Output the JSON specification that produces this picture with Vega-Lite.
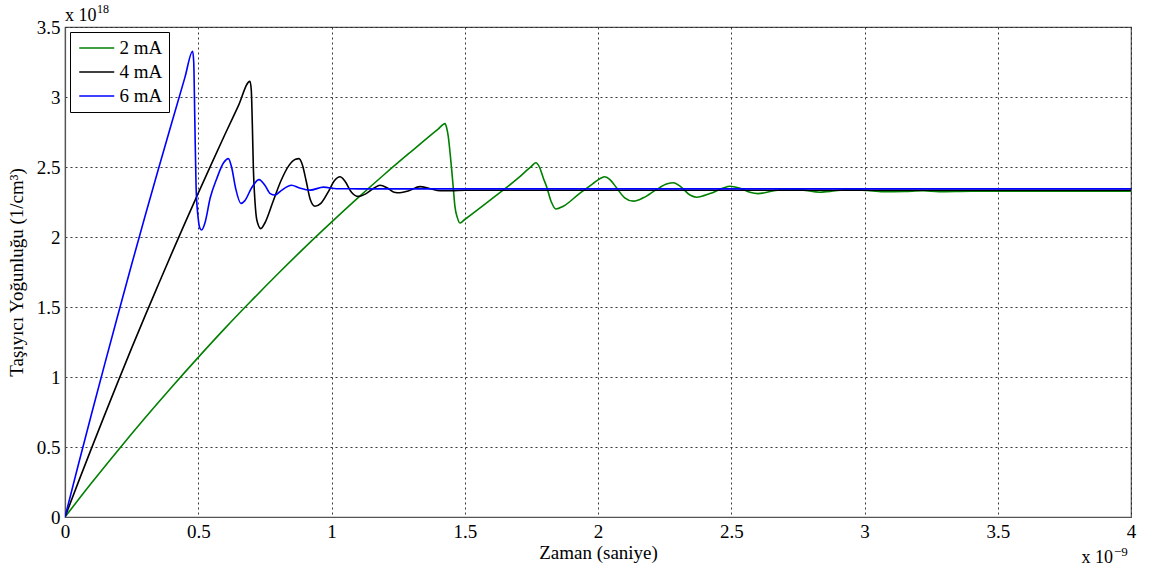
{
  "$schema": "https://vega.github.io/schema/vega-lite/v6.json",
  "width": 1066,
  "height": 490,
  "autosize": {"type": "none"},
  "padding": {"left": 65, "top": 27, "right": 21, "bottom": 59},
  "background": "white",
  "config": {
    "font": "Liberation Serif",
    "view": {"stroke": "#555", "strokeWidth": 1.2},
    "axis": {
      "labelFont": "Liberation Serif",
      "labelFontSize": 19,
      "labelColor": "#000",
      "labelFlush": false,
      "labelOverlap": false,
      "titleFont": "Liberation Serif",
      "titleFontSize": 19,
      "titleFontWeight": "normal",
      "titleColor": "#000",
      "grid": true,
      "gridColor": "#222",
      "gridDash": [2, 3],
      "gridWidth": 1,
      "gridOpacity": 0.9,
      "domainColor": "#555",
      "domainWidth": 1.2,
      "ticks": false,
      "labelPadding": 5
    },
    "legend": {
      "orient": "top-left",
      "offset": 5,
      "padding": 6,
      "strokeColor": "#000",
      "fillColor": "#fff",
      "symbolType": "M-2,0H2",
      "symbolSize": 306,
      "symbolOffset": 10.75,
      "labelOffset": 12.75,
      "symbolStrokeWidth": 1.6,
      "symbolFillColor": "transparent",
      "labelFont": "Liberation Serif",
      "labelFontSize": 19,
      "labelColor": "#000",
      "rowPadding": 4,
      "title": null
    }
  },
  "datasets": {
    "curves": [
      {"t": 0, "n": 0, "s": "2 mA"},
      {"t": 0.1, "n": 0.244, "s": "2 mA"},
      {"t": 0.2, "n": 0.479, "s": "2 mA"},
      {"t": 0.3, "n": 0.707, "s": "2 mA"},
      {"t": 0.4, "n": 0.927, "s": "2 mA"},
      {"t": 0.5, "n": 1.14, "s": "2 mA"},
      {"t": 0.6, "n": 1.347, "s": "2 mA"},
      {"t": 0.7, "n": 1.546, "s": "2 mA"},
      {"t": 0.8, "n": 1.739, "s": "2 mA"},
      {"t": 0.9, "n": 1.926, "s": "2 mA"},
      {"t": 1.0, "n": 2.106, "s": "2 mA"},
      {"t": 1.1, "n": 2.281, "s": "2 mA"},
      {"t": 1.2, "n": 2.45, "s": "2 mA"},
      {"t": 1.3, "n": 2.612, "s": "2 mA"},
      {"t": 1.4, "n": 2.771, "s": "2 mA"},
      {"t": 1.426, "n": 2.81, "s": "2 mA"},
      {"t": 1.432, "n": 2.78, "s": "2 mA"},
      {"t": 1.438, "n": 2.72, "s": "2 mA"},
      {"t": 1.445, "n": 2.6, "s": "2 mA"},
      {"t": 1.451, "n": 2.48, "s": "2 mA"},
      {"t": 1.457, "n": 2.35, "s": "2 mA"},
      {"t": 1.463, "n": 2.22, "s": "2 mA"},
      {"t": 1.472, "n": 2.14, "s": "2 mA"},
      {"t": 1.482, "n": 2.1, "s": "2 mA"},
      {"t": 1.5, "n": 2.125, "s": "2 mA"},
      {"t": 1.6, "n": 2.27, "s": "2 mA"},
      {"t": 1.7, "n": 2.42, "s": "2 mA"},
      {"t": 1.75, "n": 2.505, "s": "2 mA"},
      {"t": 1.767, "n": 2.53, "s": "2 mA"},
      {"t": 1.78, "n": 2.5, "s": "2 mA"},
      {"t": 1.795, "n": 2.42, "s": "2 mA"},
      {"t": 1.807, "n": 2.36, "s": "2 mA"},
      {"t": 1.825, "n": 2.25, "s": "2 mA"},
      {"t": 1.842, "n": 2.2, "s": "2 mA"},
      {"t": 1.87, "n": 2.22, "s": "2 mA"},
      {"t": 1.93, "n": 2.31, "s": "2 mA"},
      {"t": 1.98, "n": 2.38, "s": "2 mA"},
      {"t": 2.01, "n": 2.42, "s": "2 mA"},
      {"t": 2.026, "n": 2.43, "s": "2 mA"},
      {"t": 2.045, "n": 2.41, "s": "2 mA"},
      {"t": 2.07, "n": 2.35, "s": "2 mA"},
      {"t": 2.1, "n": 2.28, "s": "2 mA"},
      {"t": 2.133, "n": 2.256, "s": "2 mA"},
      {"t": 2.17, "n": 2.28, "s": "2 mA"},
      {"t": 2.22, "n": 2.34, "s": "2 mA"},
      {"t": 2.26, "n": 2.38, "s": "2 mA"},
      {"t": 2.283, "n": 2.387, "s": "2 mA"},
      {"t": 2.31, "n": 2.36, "s": "2 mA"},
      {"t": 2.345, "n": 2.3, "s": "2 mA"},
      {"t": 2.37, "n": 2.284, "s": "2 mA"},
      {"t": 2.42, "n": 2.31, "s": "2 mA"},
      {"t": 2.47, "n": 2.35, "s": "2 mA"},
      {"t": 2.495, "n": 2.363, "s": "2 mA"},
      {"t": 2.53, "n": 2.35, "s": "2 mA"},
      {"t": 2.57, "n": 2.32, "s": "2 mA"},
      {"t": 2.6, "n": 2.31, "s": "2 mA"},
      {"t": 2.66, "n": 2.33, "s": "2 mA"},
      {"t": 2.72, "n": 2.344, "s": "2 mA"},
      {"t": 2.77, "n": 2.335, "s": "2 mA"},
      {"t": 2.833, "n": 2.32, "s": "2 mA"},
      {"t": 2.89, "n": 2.33, "s": "2 mA"},
      {"t": 2.95, "n": 2.34, "s": "2 mA"},
      {"t": 3.01, "n": 2.332, "s": "2 mA"},
      {"t": 3.07, "n": 2.323, "s": "2 mA"},
      {"t": 3.15, "n": 2.325, "s": "2 mA"},
      {"t": 3.22, "n": 2.33, "s": "2 mA"},
      {"t": 3.28, "n": 2.323, "s": "2 mA"},
      {"t": 3.4, "n": 2.327, "s": "2 mA"},
      {"t": 4.0, "n": 2.327, "s": "2 mA"},

      {"t": 0, "n": 0, "s": "4 mA"},
      {"t": 0.05, "n": 0.249, "s": "4 mA"},
      {"t": 0.1, "n": 0.494, "s": "4 mA"},
      {"t": 0.15, "n": 0.735, "s": "4 mA"},
      {"t": 0.2, "n": 0.972, "s": "4 mA"},
      {"t": 0.25, "n": 1.206, "s": "4 mA"},
      {"t": 0.3, "n": 1.435, "s": "4 mA"},
      {"t": 0.35, "n": 1.659, "s": "4 mA"},
      {"t": 0.4, "n": 1.881, "s": "4 mA"},
      {"t": 0.45, "n": 2.099, "s": "4 mA"},
      {"t": 0.5, "n": 2.313, "s": "4 mA"},
      {"t": 0.55, "n": 2.524, "s": "4 mA"},
      {"t": 0.6, "n": 2.732, "s": "4 mA"},
      {"t": 0.65, "n": 2.935, "s": "4 mA"},
      {"t": 0.694, "n": 3.113, "s": "4 mA"},
      {"t": 0.699, "n": 3.05, "s": "4 mA"},
      {"t": 0.703, "n": 2.8, "s": "4 mA"},
      {"t": 0.707, "n": 2.48, "s": "4 mA"},
      {"t": 0.713, "n": 2.25, "s": "4 mA"},
      {"t": 0.72, "n": 2.12, "s": "4 mA"},
      {"t": 0.735, "n": 2.06, "s": "4 mA"},
      {"t": 0.75, "n": 2.1, "s": "4 mA"},
      {"t": 0.78, "n": 2.25, "s": "4 mA"},
      {"t": 0.81, "n": 2.4, "s": "4 mA"},
      {"t": 0.84, "n": 2.51, "s": "4 mA"},
      {"t": 0.865, "n": 2.555, "s": "4 mA"},
      {"t": 0.878, "n": 2.56, "s": "4 mA"},
      {"t": 0.89, "n": 2.52, "s": "4 mA"},
      {"t": 0.905, "n": 2.4, "s": "4 mA"},
      {"t": 0.92, "n": 2.27, "s": "4 mA"},
      {"t": 0.938, "n": 2.22, "s": "4 mA"},
      {"t": 0.96, "n": 2.24, "s": "4 mA"},
      {"t": 0.99, "n": 2.33, "s": "4 mA"},
      {"t": 1.01, "n": 2.4, "s": "4 mA"},
      {"t": 1.032, "n": 2.43, "s": "4 mA"},
      {"t": 1.05, "n": 2.4, "s": "4 mA"},
      {"t": 1.075, "n": 2.32, "s": "4 mA"},
      {"t": 1.1, "n": 2.29, "s": "4 mA"},
      {"t": 1.13, "n": 2.31, "s": "4 mA"},
      {"t": 1.16, "n": 2.35, "s": "4 mA"},
      {"t": 1.182, "n": 2.37, "s": "4 mA"},
      {"t": 1.21, "n": 2.35, "s": "4 mA"},
      {"t": 1.235, "n": 2.32, "s": "4 mA"},
      {"t": 1.257, "n": 2.316, "s": "4 mA"},
      {"t": 1.29, "n": 2.33, "s": "4 mA"},
      {"t": 1.332, "n": 2.36, "s": "4 mA"},
      {"t": 1.37, "n": 2.345, "s": "4 mA"},
      {"t": 1.407, "n": 2.33, "s": "4 mA"},
      {"t": 1.45, "n": 2.33, "s": "4 mA"},
      {"t": 1.5, "n": 2.334, "s": "4 mA"},
      {"t": 4.0, "n": 2.334, "s": "4 mA"},

      {"t": 0, "n": 0, "s": "6 mA"},
      {"t": 0.05, "n": 0.373, "s": "6 mA"},
      {"t": 0.1, "n": 0.739, "s": "6 mA"},
      {"t": 0.15, "n": 1.099, "s": "6 mA"},
      {"t": 0.2, "n": 1.454, "s": "6 mA"},
      {"t": 0.25, "n": 1.803, "s": "6 mA"},
      {"t": 0.3, "n": 2.146, "s": "6 mA"},
      {"t": 0.35, "n": 2.482, "s": "6 mA"},
      {"t": 0.4, "n": 2.813, "s": "6 mA"},
      {"t": 0.45, "n": 3.14, "s": "6 mA"},
      {"t": 0.479, "n": 3.327, "s": "6 mA"},
      {"t": 0.483, "n": 3.25, "s": "6 mA"},
      {"t": 0.487, "n": 2.85, "s": "6 mA"},
      {"t": 0.492, "n": 2.35, "s": "6 mA"},
      {"t": 0.5, "n": 2.13, "s": "6 mA"},
      {"t": 0.507, "n": 2.06, "s": "6 mA"},
      {"t": 0.513, "n": 2.05, "s": "6 mA"},
      {"t": 0.525, "n": 2.1, "s": "6 mA"},
      {"t": 0.545, "n": 2.28, "s": "6 mA"},
      {"t": 0.57, "n": 2.42, "s": "6 mA"},
      {"t": 0.595, "n": 2.53, "s": "6 mA"},
      {"t": 0.613, "n": 2.56, "s": "6 mA"},
      {"t": 0.625, "n": 2.5, "s": "6 mA"},
      {"t": 0.64, "n": 2.35, "s": "6 mA"},
      {"t": 0.66, "n": 2.24, "s": "6 mA"},
      {"t": 0.675, "n": 2.26, "s": "6 mA"},
      {"t": 0.7, "n": 2.35, "s": "6 mA"},
      {"t": 0.728, "n": 2.41, "s": "6 mA"},
      {"t": 0.75, "n": 2.37, "s": "6 mA"},
      {"t": 0.77, "n": 2.31, "s": "6 mA"},
      {"t": 0.788, "n": 2.3, "s": "6 mA"},
      {"t": 0.81, "n": 2.33, "s": "6 mA"},
      {"t": 0.85, "n": 2.37, "s": "6 mA"},
      {"t": 0.88, "n": 2.35, "s": "6 mA"},
      {"t": 0.92, "n": 2.335, "s": "6 mA"},
      {"t": 0.97, "n": 2.356, "s": "6 mA"},
      {"t": 1.02, "n": 2.345, "s": "6 mA"},
      {"t": 1.1, "n": 2.344, "s": "6 mA"},
      {"t": 4.0, "n": 2.344, "s": "6 mA"}
    ],
    "notes": [
      {"label": "x 10", "x": 0, "y": 3.5, "kind": "base", "pos": "top"},
      {"label": "18", "x": 0, "y": 3.5, "kind": "sup", "pos": "top"},
      {"label": "x 10", "x": 4, "y": 0, "kind": "base", "pos": "bottom"},
      {"label": "−9", "x": 4, "y": 0, "kind": "sup", "pos": "bottom"}
    ]
  },
  "layer": [
    {
      "data": {"name": "curves"},
      "mark": {"type": "line", "strokeWidth": 1.6, "clip": true, "interpolate": "monotone"},
      "encoding": {
        "x": {
          "field": "t",
          "type": "quantitative",
          "scale": {"domain": [0, 4], "nice": false, "zero": false},
          "axis": {"values": [0, 0.5, 1, 1.5, 2, 2.5, 3, 3.5, 4], "format": "~g", "title": "Zaman (saniye)", "titlePadding": 2}
        },
        "y": {
          "field": "n",
          "type": "quantitative",
          "scale": {"domain": [0, 3.5], "nice": false},
          "axis": {"values": [0, 0.5, 1, 1.5, 2, 2.5, 3, 3.5], "format": "~g", "title": "Taşıyıcı Yoğunluğu (1/cm³)", "titlePadding": 10}
        },
        "color": {
          "field": "s",
          "type": "nominal",
          "scale": {"domain": ["2 mA", "4 mA", "6 mA"], "range": ["#008000", "#000000", "#0000ff"]},
          "legend": {"title": null}
        },
        "order": {"field": "t", "type": "quantitative"}
      }
    },
    {
      "data": {"name": "notes"},
      "transform": [{"filter": "datum.pos === 'top' && datum.kind === 'base'"}],
      "mark": {"type": "text", "align": "left", "baseline": "alphabetic", "dy": -6, "dx": 0, "fontSize": 18, "font": "Liberation Serif", "color": "#000"},
      "encoding": {
        "x": {"field": "x", "type": "quantitative"},
        "y": {"field": "y", "type": "quantitative"},
        "text": {"field": "label"}
      }
    },
    {
      "data": {"name": "notes"},
      "transform": [{"filter": "datum.pos === 'top' && datum.kind === 'sup'"}],
      "mark": {"type": "text", "align": "left", "baseline": "alphabetic", "dy": -14, "dx": 32, "fontSize": 12, "font": "Liberation Serif", "color": "#000"},
      "encoding": {
        "x": {"field": "x", "type": "quantitative"},
        "y": {"field": "y", "type": "quantitative"},
        "text": {"field": "label"}
      }
    },
    {
      "data": {"name": "notes"},
      "transform": [{"filter": "datum.pos === 'bottom' && datum.kind === 'base'"}],
      "mark": {"type": "text", "align": "right", "baseline": "alphabetic", "dy": 46, "dx": -18, "fontSize": 18, "font": "Liberation Serif", "color": "#000"},
      "encoding": {
        "x": {"field": "x", "type": "quantitative"},
        "y": {"field": "y", "type": "quantitative"},
        "text": {"field": "label"}
      }
    },
    {
      "data": {"name": "notes"},
      "transform": [{"filter": "datum.pos === 'bottom' && datum.kind === 'sup'"}],
      "mark": {"type": "text", "align": "left", "baseline": "alphabetic", "dy": 39, "dx": -17, "fontSize": 13, "font": "Liberation Serif", "color": "#000"},
      "encoding": {
        "x": {"field": "x", "type": "quantitative"},
        "y": {"field": "y", "type": "quantitative"},
        "text": {"field": "label"}
      }
    }
  ]
}
